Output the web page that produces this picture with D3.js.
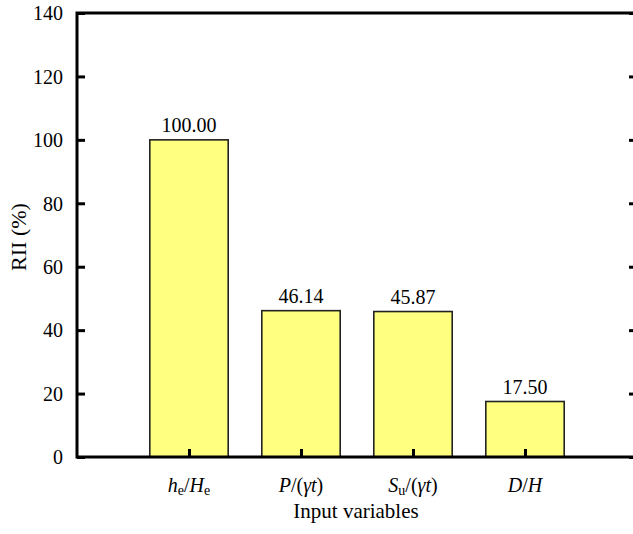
<!DOCTYPE html>
<html><head><meta charset="utf-8">
<script src="https://cdn.jsdelivr.net/npm/d3@7"></script>
<style>body{margin:0;background:#fff}svg{display:block}svg text{font-family:'Liberation Serif','Times New Roman',Times,'DejaVu Serif',serif !important;fill:#000}</style>
</head><body>
<svg id="c" width="633" height="534" font-family="Liberation Serif, serif"></svg>
<script>
const categories = ["he/He", "P/(γt)", "Su/(γt)", "D/H"];
const values = [100.00, 46.14, 45.87, 17.50];
const valueLabels = ["100.00", "46.14", "45.87", "17.50"];
const yTicks = [0, 20, 40, 60, 80, 100, 120, 140];
// rich label parts: [text, italic, subscript]
const catParts = [
  [["h",1,0],["e",0,1],["/",0,0],["H",1,0],["e",0,1]],
  [["P",1,0],["/(",0,0],["γt",1,0],[")",0,0]],
  [["S",1,0],["u",0,1],["/(",0,0],["γt",1,0],[")",0,0]],
  [["D",1,0],["/",0,0],["H",1,0]]
];

const FF = "Liberation Serif, Times New Roman, serif";
const svg = d3.select("#c");
const L = 77, R = 637, T = 13, B = 457;
const x = d3.scaleLinear().domain([0, categories.length + 1]).range([L, R]);
const y = d3.scaleLinear().domain([0, 140]).range([B, T]);
const step = x(1) - x(0);
const bw = step * 0.7;

// bars
svg.selectAll("rect.bar").data(values).enter().append("rect")
  .attr("x", (d, i) => x(i + 1) - bw / 2)
  .attr("y", d => y(d))
  .attr("width", bw)
  .attr("height", d => y(0) - y(d))
  .attr("fill", "#ffff80")
  .attr("stroke", "#222")
  .attr("stroke-width", 1.6);

// value labels
svg.selectAll("text.val").data(values).enter().append("text")
  .attr("x", (d, i) => x(i + 1))
  .attr("y", d => y(d) - 8)
  .attr("text-anchor", "middle")
  .attr("font-family", FF)
  .attr("font-size", 20)
  .text((d, i) => valueLabels[i]);

// frame
svg.append("rect").attr("x", L).attr("y", T).attr("width", R - L).attr("height", B - T)
  .attr("fill", "none").attr("stroke", "#000").attr("stroke-width", 3);

// y axis left
const yAxis = d3.axisLeft(y).tickValues(yTicks).tickSize(-8).tickPadding(14).tickFormat(d3.format("d"));
const gy = svg.append("g").attr("transform", `translate(${L},0)`).call(yAxis)
  .attr("font-family", FF).attr("font-size", 20);
gy.select(".domain").remove();
gy.selectAll(".tick line").attr("stroke-width", 3);
gy.selectAll(".tick text").attr("font-size", 20).attr("font-family", FF).attr("dy", "0.34em");
// right axis ticks
const yAxisR = d3.axisRight(y).tickValues(yTicks).tickSize(-8).tickFormat("");
const gyr = svg.append("g").attr("transform", `translate(${R},0)`).call(yAxisR);
gyr.select(".domain").remove();
gyr.selectAll(".tick line").attr("stroke-width", 3);

// x axis ticks (inward) and labels
const gx = svg.append("g").attr("transform", `translate(0,${B})`)
  .call(d3.axisBottom(x).tickValues(d3.range(1, categories.length + 1)).tickSize(-8).tickFormat(""));
gx.select(".domain").remove();
gx.selectAll(".tick line").attr("stroke-width", 3);

categories.forEach((c, i) => {
  const t = svg.append("text").attr("x", x(i + 1)).attr("y", 492)
    .attr("text-anchor", "middle").attr("font-family", FF).attr("font-size", 20);
  catParts[i].forEach(p => {
    const ts = t.append("tspan").text(p[0]);
    if (p[1]) ts.attr("font-style", "italic");
    if (p[2]) ts.attr("font-size", 14).attr("baseline-shift", "-22%");
  });
});

// axis titles
svg.append("text").attr("x", 356).attr("y", 518).attr("text-anchor", "middle")
  .attr("font-family", FF).attr("font-size", 21).text("Input variables");
svg.append("text").attr("transform", `translate(26,237) rotate(-90)`)
  .attr("text-anchor", "middle").attr("font-family", FF).attr("font-size", 22).text("RII (%)");
</script>
</body></html>
